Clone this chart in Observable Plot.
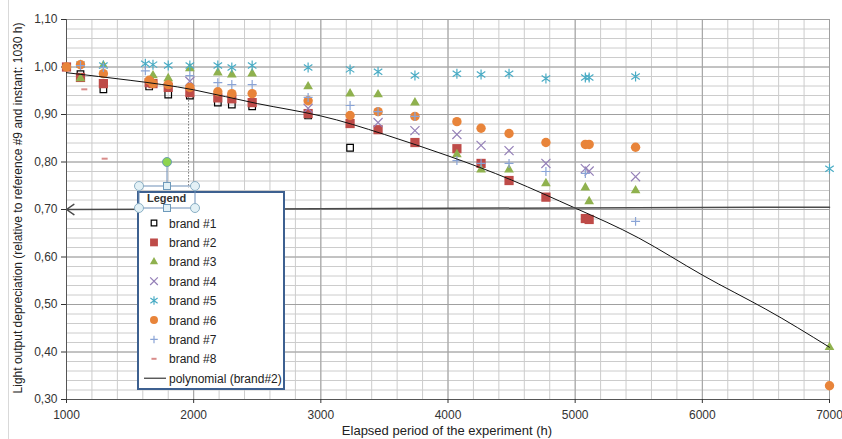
<!DOCTYPE html>
<html><head><meta charset="utf-8">
<script src="https://cdn.jsdelivr.net/npm/d3@7"></script>
<script src="https://cdn.jsdelivr.net/npm/@observablehq/plot@0.6"></script>
<style>
html,body{margin:0;padding:0;background:#fff;}
#chart{position:relative;width:842px;height:439px;font-family:"Liberation Sans",Arial,sans-serif;}
</style></head><body><div id="chart"></div>
<script>
// ---- data (elapsed hours, relative light output) ----
const brandNames = ["brand #1","brand #2","brand #3","brand #4","brand #5","brand #6","brand #7","brand #8"];
const polyName = "polynomial (brand#2)";
const brand1 = [[1110,0.985],[1290,0.953],[1650,0.959],[1800,0.942],[1970,0.94],[2190,0.925],[2300,0.921],[2460,0.917],[2900,0.898],[3230,0.83]];
const brand2 = [[1000,1.0],[1110,0.978],[1290,0.965],[1650,0.967],[1680,0.965],[1800,0.957],[1970,0.946],[2190,0.935],[2300,0.933],[2460,0.925],[2900,0.902],[3230,0.881],[3450,0.868],[3740,0.841],[4070,0.828],[4260,0.797],[4480,0.761],[4770,0.726],[5080,0.681],[5110,0.679]];
const brand3 = [[1110,0.976],[1290,1.003],[1680,0.982],[1800,0.976],[1970,0.997],[2190,0.988],[2300,0.984],[2460,0.986],[2900,0.959],[3230,0.944],[3450,0.942],[3740,0.925],[4070,0.816],[4260,0.784],[4480,0.784],[4770,0.755],[5080,0.746],[5110,0.717],[5475,0.74],[7000,0.41]];
const brand4 = [[1970,0.97],[2900,0.913],[3450,0.883],[3740,0.866],[4070,0.858],[4260,0.835],[4480,0.824],[4770,0.797],[5080,0.786],[5110,0.781],[5475,0.769]];
const brand5 = [[1110,1.005],[1290,1.003],[1620,1.007],[1680,1.005],[1800,1.003],[1970,1.003],[2190,1.003],[2300,0.999],[2460,1.003],[2900,0.999],[3230,0.995],[3450,0.99],[3740,0.982],[4070,0.986],[4260,0.984],[4480,0.986],[4770,0.976],[5080,0.978],[5110,0.978],[5475,0.98],[7000,0.786]];
const brand6 = [[1000,1.0],[1110,1.005],[1290,0.986],[1650,0.972],[1680,0.965],[1800,0.963],[1970,0.957],[2190,0.948],[2300,0.944],[2460,0.944],[2900,0.929],[3230,0.898],[3450,0.906],[3740,0.896],[4070,0.885],[4260,0.871],[4480,0.86],[4770,0.841],[5080,0.837],[5110,0.837],[5475,0.831],[7000,0.329]];
const brand7 = [[1110,1.003],[1290,0.999],[1620,0.992],[1970,0.982],[2190,0.967],[2300,0.963],[2460,0.963],[2900,0.936],[3230,0.919],[3450,0.906],[3740,0.896],[4070,0.803],[4260,0.797],[4480,0.797],[4770,0.78],[5080,0.776],[5475,0.675]];
const brand8 = [[1140,0.953],[1300,0.807]];
const polyTrend = [[1000,0.988],[1500,0.972],[2000,0.952],[2500,0.923],[3000,0.897],[3500,0.858],[4000,0.813],[4500,0.762],[5000,0.703],[5500,0.64],[6000,0.562],[6500,0.49],[7000,0.41]];
const thresholdArrow = [{x1:7000, y1:0.705, x2:1000, y2:0.70}];
const dottedLeader = [{x:1960, y1:0.935, y2:0.745}];
const xTicks = [1000,2000,3000,4000,5000,6000,7000];
const yTicks = [0.30,0.40,0.50,0.60,0.70,0.80,0.90,1.00,1.10];

// ---- styles ----
const asterisk = {draw(ctx, size){ const r = Math.sqrt(size/Math.PI);
  ctx.moveTo(0,-r); ctx.lineTo(0,r);
  ctx.moveTo(-r*0.85,-r*0.6); ctx.lineTo(r*0.85,r*0.6);
  ctx.moveTo(-r*0.85,r*0.6); ctx.lineTo(r*0.85,-r*0.6);}};
const dash = {draw(ctx, size){ const r = Math.sqrt(size/Math.PI);
  ctx.rect(-r, -1, 2*r, 2);}};
const styles = [
  {symbol:"square", r:3.7, fill:"none", stroke:"#000", strokeWidth:1.2},
  {symbol:"square", r:5.2, fill:"#BE4B48", stroke:"none"},
  {symbol:"triangle", r:3.6, fill:"#8FB14E", stroke:"none"},
  {symbol:"times", r:4.2, fill:"none", stroke:"#9580B8", strokeWidth:1.2},
  {symbol:asterisk, r:5, fill:"none", stroke:"#4AACC5", strokeWidth:1.2},
  {symbol:"circle", r:4.7, fill:"#E8843A", stroke:"none"},
  {symbol:"plus", r:3, fill:"none", stroke:"#8AA4D6", strokeWidth:1.2},
  {symbol:dash, r:3, fill:"#D98C8A", stroke:"none"}
];
const brands = [brand1,brand2,brand3,brand4,brand5,brand6,brand7,brand8];
const toRows = (arr, name) => arr.map(([x,y]) => ({x, y, name}));

const minorX = d3.range(1200, 7000, 200);
const minorY = d3.range(0.32, 1.1, 0.02);
const FONT = '"Liberation Sans", Arial, sans-serif';

const chart = Plot.plot({
  width: 842, height: 439,
  marginTop: 19, marginRight: 13, marginBottom: 40, marginLeft: 66,
  style: {fontFamily: FONT, fontSize: "12px", color: "#333", background: "#fff"},
  x: {domain: [1000, 7000]},
  y: {domain: [0.30, 1.10]},
  marks: [
    Plot.ruleX(minorX, {stroke: "#cccccc", strokeWidth: 1}),
    Plot.ruleY(minorY, {stroke: "#cccccc", strokeWidth: 1}),
    Plot.ruleX(xTicks, {stroke: "#a0a0a0", strokeWidth: 1}),
    Plot.ruleY(yTicks, {stroke: "#a0a0a0", strokeWidth: 1}),
    Plot.ruleX([1000], {stroke: "#555", strokeWidth: 1}),
    Plot.ruleY([0.30], {stroke: "#555", strokeWidth: 1}),
    Plot.axisX({ticks: xTicks, tickSize: 4, tickPadding: 7, label: null, tickFormat: d => String(d), fontSize: 12, fill: "#333"}),
    Plot.axisY({ticks: yTicks, tickSize: 5, tickPadding: 4, label: null, tickFormat: d => d.toFixed(2).replace(".", ","), fontSize: 12, fill: "#333"}),
    ...brands.map((b, i) => Plot.dot(toRows(b, brandNames[i]), {x: "x", y: "y", ...styles[i]})),
    Plot.line(toRows(polyTrend, polyName), {x: "x", y: "y", stroke: "#111", strokeWidth: 1, curve: "natural"}),
    Plot.ruleX(dottedLeader, {x: "x", y1: "y1", y2: "y2", stroke: "#333", strokeDasharray: "1,2", strokeWidth: 1}),
    Plot.arrow(thresholdArrow, {x1: "x1", y1: "y1", x2: "x2", y2: "y2", stroke: "#4a4a4a", strokeWidth: 1.5, headLength: 9, headAngle: 70, ariaLabel: "threshold-arrow"})
  ]
});
document.getElementById("chart").append(chart);

const svg = d3.select(chart);
// faint chart-area border at the left edge
svg.append("line").attr("x1", 8.5).attr("x2", 8.5).attr("y1", 0).attr("y2", 439).attr("stroke", "#d9d9d9");
// axis titles
svg.append("text").attr("x", 447).attr("y", 435).attr("text-anchor", "middle")
  .attr("font-family", FONT).attr("font-size", 13).attr("fill", "#222")
  .text("Elapsed period of the experiment (h)");
svg.append("text").attr("transform", "translate(22,208) rotate(-90)").attr("text-anchor", "middle")
  .attr("font-family", FONT).attr("font-size", 12).attr("fill", "#222")
  .text("Light output depreciation (relative to reference #9 and instant: 1030 h)");

// legend box (Excel-like, shown selected)
const lg = svg.append("g").attr("text-anchor", "start");
lg.append("rect").attr("x", 138).attr("y", 192).attr("width", 146).attr("height", 197)
  .attr("fill", "#fff").attr("stroke", "#3D6090").attr("stroke-width", 2);
lg.append("text").attr("x", 147).attr("y", 202).attr("text-anchor", "start").attr("font-family", FONT).attr("font-size", 11)
  .attr("font-weight", "bold").attr("fill", "#333").text("Legend");
const rowY = i => 223 + i * 19.4;
brandNames.forEach((name, i) => {
  const s = styles[i];
  const type = typeof s.symbol === "string" ? {square: d3.symbolSquare, triangle: d3.symbolTriangle, times: d3.symbolTimes, circle: d3.symbolCircle, plus: d3.symbolPlus}[s.symbol] : s.symbol;
  const rr = s.r * 0.85;
  lg.append("path").attr("transform", `translate(154,${rowY(i)})`)
    .attr("d", d3.symbol(type, Math.PI * rr * rr)())
    .attr("fill", s.fill).attr("stroke", s.stroke).attr("stroke-width", s.strokeWidth || 0);
  lg.append("text").attr("x", 169).attr("y", rowY(i) + 4.5).attr("text-anchor", "start").attr("font-family", FONT).attr("font-size", 12)
    .attr("fill", "#222").text(name);
});
lg.append("line").attr("x1", 144).attr("x2", 166).attr("y1", rowY(8)).attr("y2", rowY(8)).attr("stroke", "#111");
lg.append("text").attr("x", 169).attr("y", rowY(8) + 4.5).attr("text-anchor", "start").attr("font-family", FONT).attr("font-size", 12)
  .attr("fill", "#222").text(polyName);

// selection frame and handles around the "Legend" title
const sel = svg.append("g");
sel.append("rect").attr("x", 139).attr("y", 186).attr("width", 56).attr("height", 22)
  .attr("fill", "none").attr("stroke", "#6E8FB8").attr("stroke-width", 1);
sel.append("line").attr("x1", 167).attr("x2", 167).attr("y1", 166).attr("y2", 186).attr("stroke", "#6E8FB8");
sel.append("circle").attr("cx", 167).attr("cy", 162).attr("r", 4.5).attr("fill", "#8ED44F").attr("stroke", "#6C9FB0");
[[139,186],[195,186],[139,208],[195,208]].forEach(([cx,cy]) =>
  sel.append("circle").attr("cx", cx).attr("cy", cy).attr("r", 4.5).attr("fill", "#E3F1F6").attr("stroke", "#8AAFC4"));
[[167,186],[167,208]].forEach(([cx,cy]) =>
  sel.append("rect").attr("x", cx - 3.5).attr("y", cy - 3.5).attr("width", 7).attr("height", 7).attr("fill", "#E3F1F6").attr("stroke", "#6E9ABB"));

// the threshold arrow lies over the legend
const arrowG = chart.querySelector('g[aria-label="threshold-arrow"]');
if (arrowG) chart.appendChild(arrowG);
</script>
</body></html>
